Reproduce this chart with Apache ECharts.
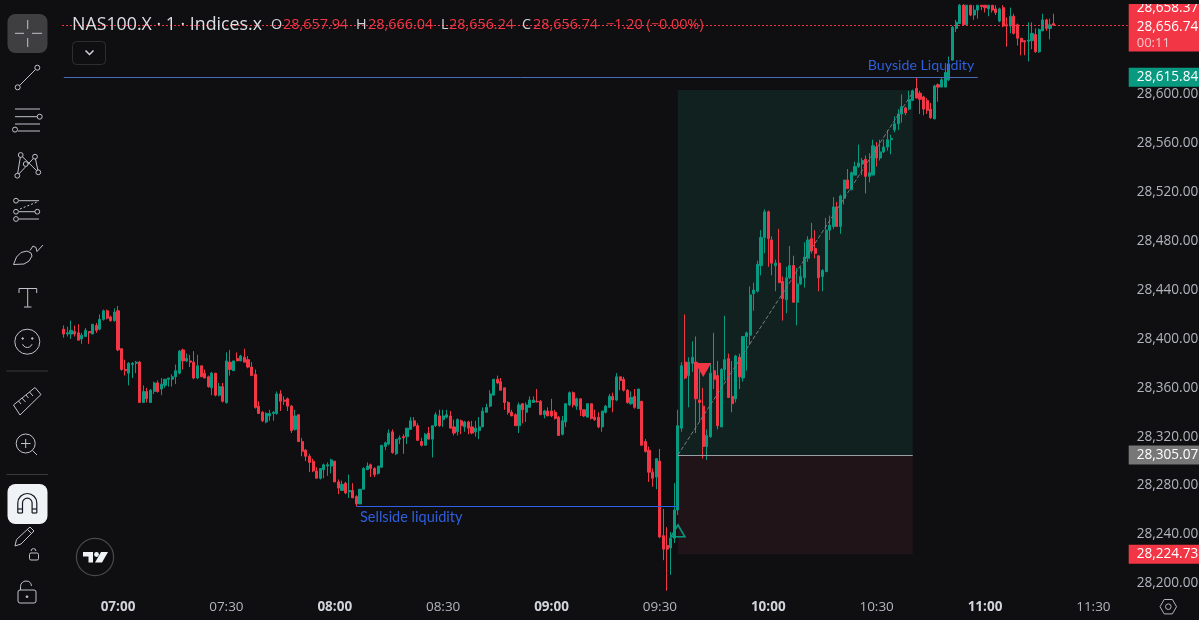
<!DOCTYPE html>
<html><head><meta charset="utf-8">
<style>html,body{margin:0;padding:0;background:#0f0f11;overflow:hidden}#c{width:1199px;height:620px}</style>
<script src="https://cdn.jsdelivr.net/npm/echarts@6/dist/echarts.min.js"></script>
</head><body><div id="c"></div>
<script>
const opens=[28408,28404,28404,28406,28405,28400,28402,28406,28404,28411,28408,28416,28423,28418,28415,
28423,28392,28375,28372,28379,28380,28381,28348,28357,28348,28357,28364,28359,28362,28367,
28367,28369,28372,28391,28382,28382,28381,28368,28378,28372,28369,28360,28372,28354,28361,
28348,28381,28374,28384,28382,28385,28383,28377,28371,28345,28340,28332,28337,28339,28339,
28355,28350,28351,28345,28326,28338,28316,28309,28304,28300,28292,28286,28293,28296,28296,
28300,28283,28276,28282,28275,
28276,28271,28265,28277,28293,28297,28294,28290,28295,28312,28314,28324,28306,28318,28320,
28320,28326,28333,28329,28316,28313,28323,28318,28329,28337,28334,28336,28337,28328,28324,
28333,28328,28332,28328,28324,28325,28328,28340,28345,28354,28367,28365,28360,28348,28340,
28338,28329,28347,28340,28344,28348,28349,28349,28338,28341,28341,28340,28336,28322,28332,
28346,28356,28345,28351,28342,28336,28347,28336,28336,28328,28340,28344,28353,28350,28369,
28367,28358,28347,28353,28343,28349,28316,28309,28291,28287,28300,28239,28231,28229,28237,
28260,28327,28381,28370,28380,28381,28350,28345,28312,28320,28374,28370,28328,28375,28384,
28353,28351,28385,28368,28402,28403,28437,28439,28460,28483,28504,28481,28460,28462,28447,
28432,28450,28460,28430,28445,28450,28466,28482,28474,28468,28451,28455,28489,28492,28508,
28492,28515,28530,28522,28534,28541,28543,28547,28533,28534,28557,28548,28553,28557,28563,
28571,28576,28584,28589,28588,28595,28605,28601,28598,28595,28588,28580,28608,28606,28606,
28612,28628,28654,28658,28673,28657,28673,28665,28669,28673,28673,28670,28673,28670,28660,
28671,28657,28656,28664,28657,28646,28644,28643.5,28644,28649,28635,28652,28661,28654,28657.94];
const closes=[28404,28405,28407,28404,28399,28403,28407,28405,28412,28407,28416,28423,28417,28415,28422,
28391,28375,28374,28380,28380,28381,28348,28357,28351,28358,28364,28357,28363,28367,28368,
28369,28374,28390,28382,28384,28381,28368,28378,28369,28368,28361,28372,28354,28361,28349,
28382,28375,28382,28382,28386,28381,28377,28370,28344,28339,28333,28339,28339,28340,28355,
28349,28349,28345,28325,28337,28316,28308,28304,28299,28292,28286,28294,28297,28297,28301,
28283,28278,28281,28274,28276,
28270,28265,28277,28294,28296,28294,28289,28296,28313,28315,28323,28307,28318,28319,28319,
28327,28333,28329,28317,28313,28322,28318,28329,28338,28329,28337,28338,28327,28323,28334,
28329,28332,28327,28323,28327,28328,28341,28344,28355,28367,28364,28358,28348,28340,28337,
28329,28346,28342,28346,28350,28350,28348.5,28338,28341,28337,28337,28335,28321,28333,28347,
28356,28346,28351,28342,28337,28347,28335,28334,28328,28341,28345,28353,28350,28369,28366,
28358,28348,28352,28344,28359,28313,28308,28291,28286,28302,28238,28228,28228,28237,28260,
28329,28378,28368,28381,28385,28351,28348,28312,28321,28372,28367,28329,28375,28383,28352,
28347,28386,28369,28402,28405,28436,28440,28461,28483,28504,28482,28462,28462,28446,28433,
28450,28460,28430,28445,28451,28467,28481,28472,28470,28450,28456,28489,28493,28508,28492,
28517,28530,28523,28536,28541,28544,28546,28533,28536,28558,28548,28553,28557,28563,28564,
28576,28584,28590,28585,28596,28603,28597,28596,28588,28587,28581,28607,28606,28612,28618,
28625,28655,28659,28673,28657,28673,28665,28669,28673,28672,28671,28673,28669,28667,28670,
28656,28656,28664,28650,28646,28643,28643,28644.5,28650,28635,28653,28661,28654,28657,28656.74];
const lows=[28401,28402,28400,28402,28399,28396,28402,28396,28404,28405,28407,28415,28416,28414,28414,
28390,28374,28370,28362,28368,28372,28348,28348,28348,28348,28355,28356,28354,28360,28361,
28361,28363,28371,28375,28381,28377,28367,28367,28369,28368,28360,28354,28353,28353,28348,
28347,28370,28374,28382,28382,28381,28376,28370,28343,28339,28332,28331,28333,28333,28338,
28341,28346,28341,28323,28325,28316,28304,28300,28291,28291,28286,28285,28286,28288,28290,
28283,28273,28276,28273,28270,
28270,28263,28265,28277,28293,28287,28287,28289,28295,28309,28313,28306,28305,28314,28306,
28314,28326,28328,28317,28312,28313,28318,28303,28328,28328,28328,28335,28327,28321,28321,
28322,28324,28322,28322,28320,28318,28328,28340,28344,28354,28363,28358,28342,28338,28337,
28329,28323,28331,28332,28344,28348,28348,28338,28335,28337,28336,28334,28321,28321,28328,
28345,28344,28342,28337,28336,28336,28334,28333,28327,28324,28339,28344,28340,28349,28358,
28357,28347,28346,28343,28343,28313,28307,28283,28279,28277,28237,28219,28194,28207,28233,
28256,28324,28367,28344,28373,28323,28332,28302,28301,28319,28359,28326,28328,28366,28352,
28340,28348,28359,28365,28374,28395,28423,28438,28452,28470,28459,28452,28439,28446,28415,
28421,28449,28430,28411,28444,28442,28463,28470,28466,28439,28439,28455,28481,28490,28492,
28486,28510,28523,28522,28534,28540,28534,28519,28528,28534,28541,28546,28552,28554,28551,
28569,28571,28577,28583,28587,28595,28597,28584,28583,28584,28580,28580,28594,28606,28606,
28611,28628,28651,28658,28657,28657,28664,28661,28662,28669,28667,28664,28667,28665,28659,
28655,28639,28650,28649,28640,28632,28632,28627,28637,28634,28634,28652,28652,28645,28656.24];
const highs=[28411,28410,28415,28411,28412,28405,28409,28406,28412,28413,28420,28424,28424,28419,28425,
28427,28392,28383,28381,28381,28382,28382,28362,28360,28359,28365,28366,28368,28367,28368,
28371,28379,28391,28392,28388,28387,28390,28387,28378,28375,28370,28373,28372,28364,28364,
28389,28391,28382,28389,28387,28392,28386,28381,28375,28349,28341,28340,28342,28341,28357,
28358,28353,28352,28346,28342,28338,28319,28310,28306,28302,28295,28294,28298,28299,28302,
28300,28285,28284,28283,28289,
28282,28272,28277,28295,28299,28298,28295,28296,28313,28316,28326,28326,28318,28321,28322,
28327,28336,28336,28331,28319,28323,28328,28329,28340,28342,28342,28342,28341,28334,28335,
28334,28333,28333,28333,28333,28336,28344,28347,28358,28367,28370,28368,28360,28349,28342,
28339,28348,28347,28348,28353,28353,28359,28350,28342,28344,28351,28342,28337,28337,28347,
28357,28357,28352,28351,28342,28347,28347,28342,28340,28341,28346,28355,28356,28372,28369,
28369,28359,28357,28359,28359,28349,28318,28312,28294,28302,28310,28261,28246,28242,28282,
28342,28381,28420,28385,28398,28402,28377,28360,28326,28380,28405,28382,28376,28419,28388,
28382,28387,28388,28402,28406,28443,28446,28464,28489,28506,28505,28484,28465,28490,28451,
28459,28476,28468,28458,28459,28479,28484,28495,28489,28468,28457,28499,28501,28516,28512,
28518,28530,28539,28537,28545,28559,28548,28550,28552,28563,28561,28563,28563,28571,28567,
28582,28588,28600,28590,28603,28604,28614,28603,28599,28597,28593,28608,28609,28614,28624,
28631,28656,28661,28674,28674,28673,28673,28673,28673,28673,28673,28673,28673,28673,28671,
28673,28663,28671,28666,28658,28646,28644,28659,28659,28654,28654,28666,28662,28662,28666.04];

if(new Set([opens.length,closes.length,lows.length,highs.length]).size!==1) throw new Error('len '+[opens.length,closes.length,lows.length,highs.length]);

const times=[];
for(let i=0;i<295;i++){const m=6*60+45+i;times.push(String(Math.floor(m/60)).padStart(2,'0')+':'+String(m%60).padStart(2,'0'));}
const candles=opens.map((o,i)=>[o,closes[i],lows[i],highs[i]]);

const FONT='"Open Sans"';
const RED='#f23645',GREEN='#089981',INK='#d1d4dc',BG='#0f0f11',BLUE='#2f5fdc';
const lastPrice=28656.74, upperLevel=28614, entry=28305.07, stop=28223.8, target=28603.7, sellside=28263.4;
const fmt=v=>v.toLocaleString('en-US',{minimumFractionDigits:2,maximumFractionDigits:2});

function tag(v,text,color){return {yAxis:v,lineStyle:{color:'rgba(0,0,0,0)'},label:{show:true,position:'end',distance:1,formatter:text,color:'#fff',fontFamily:FONT,fontSize:13.6,
  backgroundColor:color,padding:[1,10,1,8],lineHeight:17}};}

/* ---- toolbar & header drawing primitives ---- */
const g=[];const st={stroke:'#c0c3cb',lineWidth:1,fill:'none'};
const L=(a,b,c,d,s)=>g.push({type:'line',z:50,shape:{x1:a,y1:b,x2:c,y2:d},style:Object.assign({},st,s)});
const C=(x,y,r,s)=>g.push({type:'circle',z:50,shape:{cx:x,cy:y,r},style:Object.assign({},st,s)});
const Rc=(x,y,w,h,r,s)=>g.push({type:'rect',z:49,shape:{x,y,width:w,height:h,r},style:Object.assign({},st,s)});
const P=(pts,s)=>g.push({type:'polyline',z:50,shape:{points:pts},style:Object.assign({},st,s)});
const Pg=(pts,s)=>g.push({type:'polygon',z:50,shape:{points:pts},style:Object.assign({},st,s)});
const A=(x,y,r,a0,a1,s)=>g.push({type:'arc',z:50,shape:{cx:x,cy:y,r,startAngle:a0,endAngle:a1,clockwise:true},style:Object.assign({},st,s)});
const T=(x,y,t,s)=>g.push({type:'text',z:60,x,y,style:Object.assign({text:t,fontFamily:FONT,fontSize:14.4,fill:INK,textVerticalAlign:'middle',verticalAlign:'middle'},s)});

// cover band at the very top of the shot
g.push({type:'rect',z:500,shape:{x:0,y:0,width:1199,height:4},style:{fill:BG}});
// cross button
Rc(7.5,14,40,39,8,{fill:'#3f3f41',stroke:'none'});
L(27.7,20,27.7,29);L(27.7,38,27.7,47);L(15,33.3,24,33.3);L(32,33.3,42,33.3);
// trend line
C(37.3,67.7,2.5);C(17.7,87.3,2.5);L(19.5,85.5,35.5,69.5);
// fib lines
L(15,109,40,109);L(15,116.7,37,116.7);C(39.7,116.7,2.5);L(15,124,40,124);C(15,129.6,2.5);L(18,131,40,131);
// pattern
const pp=[[17.3,175.7],[20.7,155],[38.3,172.3],[35,156.7],[25.7,164]];
P([pp[0],pp[1],pp[2],pp[3],pp[0]]);pp.forEach(p=>C(p[0],p[1],2.4,{fill:BG}));
// gann
L(19,200.7,39,200.7);C(16,200.7,2.4);L(19,211.7,35,211.7);C(16,211.7,2.4);C(37.3,211.7,2.4);L(19,219,39,219);C(16,219,2.4);
L(20,209,37,202,{lineDash:[2,2]});
// brush
Pg([[13.5,264.5],[16.5,257],[21,252.5],[27,251],[31,253],[32,256],[29,261],[24,264]]);
P([[30,250.5],[33,246],[36,247.5],[37,251.5],[43,245]]);
// T
P([[19,293],[19,288.5],[36.7,288.5],[36.7,293]]);L(27.7,288.5,27.7,307);L(24,307,31.5,307);
// smile
C(27.3,341.7,12.5);C(22.7,338.5,.8,{fill:'#c0c3cb'});C(32.3,338.5,.8,{fill:'#c0c3cb'});A(27.3,342.5,5,.35,2.8);
// separators
L(6.5,371,48,371,{stroke:'#3a3a3d',lineWidth:1});L(6.5,474.5,48,474.5,{stroke:'#3a3a3d',lineWidth:1});
// ruler
Pg([[13.5,405],[35,387.5],[41,394.5],[20,415]]);L(18.5,401,21,404);L(22,398,25.5,402);L(26,395,28.5,398);L(29.5,392,33,396);
// zoom
C(25.7,443.5,9.5);L(25.7,439,25.7,448);L(21,443.5,30.5,443.5);L(32.5,450.5,37,455);
// magnet
Rc(7.5,484,40,40,8,{fill:'#f0f3f5',stroke:'none'});
const mg={stroke:'#131722',lineWidth:1.2};
A(27.3,503,9.5,Math.PI,0,mg);A(27.3,503,4.8,Math.PI,0,mg);
L(17.8,503,17.8,513,mg);L(22.5,503,22.5,513,mg);L(32.1,503,32.1,513,mg);L(36.8,503,36.8,513,mg);
L(17.8,513,22.5,513,mg);L(32.1,513,36.8,513,mg);L(17.8,509,22.5,509,mg);L(32.1,509,36.8,509,mg);
// pencil + small lock
Pg([[15,546],[16.5,539.5],[30,527],[34,531],[21,544]]);L(27.5,529.5,31.5,533.5);
Rc(29.5,553,9,7,1.5,{});A(33.5,551,2.4,Math.PI,0);
// lock
Rc(18,590,18,13,2,{});A(26,586.5,5.5,Math.PI,-.1);L(20.5,586.5,20.5,590);C(27,596.7,.9,{fill:'#c0c3cb'});
// TV logo
C(95,557,18.6,{stroke:'#4a4a4d',lineWidth:1.2});
Pg([[83,552],[93,552],[93,562.5],[88.5,562.5],[88.5,556.5],[83,556.5]],{fill:'#f0f3f5',stroke:'none'});
C(96.5,554.5,2.4,{fill:'#f0f3f5',stroke:'none'});
Pg([[101,552],[108,552],[102,562.5],[95,562.5]],{fill:'#f0f3f5',stroke:'none'});
// gear
Pg([[1160,606.7],[1164.2,599.5],[1172.4,599.5],[1176.5,606.7],[1172.4,613.9],[1164.2,613.9]],{stroke:'#b2b5be'});C(1168.3,606.7,2.8,{stroke:'#b2b5be'});
// chevron button
Rc(72.5,41.5,33,23,4,{stroke:'#2e2e30',lineWidth:1});P([[85.5,50.5],[89.5,54.5],[93.5,50.5]],{stroke:INK,lineWidth:1.5});
// header
T(72,25,'NAS100.X · 1 · Indices.x',{fontSize:17.8,fill:'#dcdee3',fontWeight:500});
const hdr=[[271,'O',0],[283,'28,657.94',1],[356,'H',0],[368,'28,666.04',1],[441,'L',0],[449,'28,656.24',1],[522,'C',0],[533,'28,656.74',1],[606,'−1.20 (−0.00%)',1]];
hdr.forEach(h=>T(h[0],25,h[1],{fill:h[2]?RED:INK}));

const option={
 animation:false,backgroundColor:BG,
 grid:{left:62,top:4,width:1065.7,height:591.6,containLabel:false,outerBoundsMode:'none'},
 xAxis:{type:'category',data:times,axisLine:{show:false},axisTick:{show:false},splitLine:{show:false},
  axisLabel:{margin:5,interval:(i)=>(i-15)%30===0,
   formatter:v=>v.endsWith(':00')?'{b|'+v+'}':'{n|'+v+'}',
   rich:{b:{fontFamily:FONT,fontSize:13.5,fontWeight:700,color:INK},n:{fontFamily:FONT,fontSize:13.5,color:'#b2b5be'}}}},
 yAxis:{type:'value',position:'right',min:28190,max:28674,interval:10,splitLine:{show:false},axisLine:{show:false},axisTick:{show:false},
  axisLabel:{margin:9,fontFamily:FONT,fontSize:13.6,color:'#b2b5be',padding:[0,0,3,0],
   formatter:v=>(v%40===0&&v<=28600)?fmt(v):''}},
 series:[
 {type:'line',z:1,data:[],silent:true,
  markArea:{silent:true,data:[
   [{coord:[times[170],target],itemStyle:{color:'#112120'}},{coord:[times[235],entry]}],
   [{coord:[times[170],entry],itemStyle:{color:'#201418'}},{coord:[times[235],stop]}]
  ]}},
 {type:'candlestick',z:2,data:candles,barWidth:2.6,silent:true,
  itemStyle:{color:GREEN,color0:RED,borderColor:GREEN,borderColor0:RED,borderWidth:1},
  markLine:{silent:true,symbol:'none',animation:false,label:{show:false},data:[
   Object.assign({yAxis:lastPrice,lineStyle:{color:RED,type:[2,2],width:1,opacity:1}},{label:{show:true,position:'end',distance:1,
     backgroundColor:RED,padding:[0,10,2.5,8],
     formatter:'{a|28,658.37}\n{a2|28,656.74}\n{c|00:11}',
     rich:{a:{fontFamily:FONT,fontSize:13.6,color:'#fff',lineHeight:18.5},a2:{fontFamily:FONT,fontSize:13.6,color:'#fff',lineHeight:21},c:{fontFamily:FONT,fontSize:13,color:'#f3c6ca',lineHeight:11}}}}),
   tag(upperLevel,'28,615.84',GREEN),tag(entry,'28,305.07','#777777'),tag(stop,'28,224.73',RED),
   [{coord:[times[0],upperLevel],lineStyle:{color:'#4a6bb8',type:'solid',width:1}},{coord:[times[253],upperLevel]}],
   [{coord:[times[81],sellside],lineStyle:{color:'#2f62e8',type:'solid',width:1}},{coord:[times[170],sellside]}],
   [{coord:[times[170],entry],lineStyle:{color:'#9a9ea6',type:'solid',width:1}},{coord:[times[235],entry]}],
   [{coord:[times[170],entry],lineStyle:{color:'#787b82',type:'dashed',width:1}},{coord:[times[235],target-2]}]
  ]},
  markPoint:{silent:true,animation:false,data:[
   {coord:[times[177],28374.6],symbol:'triangle',symbolRotate:180,symbolSize:[16,14],itemStyle:{color:RED},label:{show:false}},
   {coord:[times[170],28243],symbol:'triangle',symbolSize:[14,12],itemStyle:{color:'rgba(0,0,0,0)',borderColor:GREEN,borderWidth:1.5},label:{show:false}},
   {coord:[times[82],28254.4],symbol:'circle',symbolSize:0,label:{show:true,position:'right',distance:0,formatter:'Sellside liquidity',color:BLUE,fontFamily:'"Lato"',fontSize:14.5}},
   {coord:[times[222],28624],symbol:'circle',symbolSize:0,label:{show:true,position:'right',distance:2,formatter:'Buyside Liquidity',color:BLUE,fontFamily:'"Lato"',fontSize:14.2}}
  ]}}
 ],
 graphic:{elements:g}
};
echarts.init(document.getElementById('c'),null,{renderer:'canvas'}).setOption(option);
</script></body></html>
